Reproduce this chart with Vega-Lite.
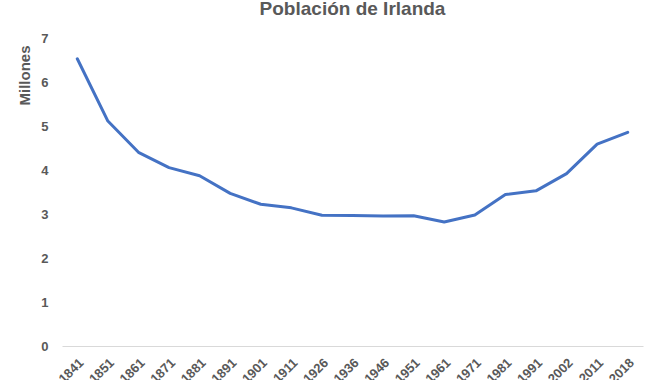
{
  "$schema": "https://vega.github.io/schema/vega-lite/v6.json",
  "width": 581,
  "height": 308,
  "autosize": {"type": "none"},
  "padding": {"left": 62, "top": 38, "right": 18, "bottom": 34},
  "background": "white",
  "title": {
    "text": "Población de Irlanda",
    "fontSize": 19,
    "font": "Liberation Sans",
    "fontWeight": "bold",
    "color": "#595959",
    "anchor": "middle",
    "offset": 13
  },
  "data": {
    "values": [
      {"year": "1841", "pop": 6.529},
      {"year": "1851", "pop": 5.112},
      {"year": "1861", "pop": 4.402},
      {"year": "1871", "pop": 4.053},
      {"year": "1881", "pop": 3.870},
      {"year": "1891", "pop": 3.469},
      {"year": "1901", "pop": 3.222},
      {"year": "1911", "pop": 3.140},
      {"year": "1926", "pop": 2.972},
      {"year": "1936", "pop": 2.968},
      {"year": "1946", "pop": 2.955},
      {"year": "1951", "pop": 2.961},
      {"year": "1961", "pop": 2.818},
      {"year": "1971", "pop": 2.978},
      {"year": "1981", "pop": 3.443},
      {"year": "1991", "pop": 3.526},
      {"year": "2002", "pop": 3.917},
      {"year": "2011", "pop": 4.588},
      {"year": "2018", "pop": 4.857}
    ]
  },
  "mark": {"type": "line", "color": "#4472C4", "strokeWidth": 3, "strokeCap": "round", "strokeJoin": "round"},
  "encoding": {
    "x": {
      "field": "year",
      "type": "ordinal",
      "sort": null,
      "scale": {"type": "band", "paddingInner": 0, "paddingOuter": 0},
      "axis": {
        "title": null,
        "labelAngle": -45,
        "labelFont": "Liberation Sans",
        "labelFontSize": 13,
        "labelFontWeight": "bold",
        "labelColor": "#595959",
        "ticks": false,
        "labelPadding": 10,
        "domainColor": "#D9D9D9",
        "domainWidth": 1,
        "grid": false
      }
    },
    "y": {
      "field": "pop",
      "type": "quantitative",
      "scale": {"domain": [0, 7], "nice": false},
      "axis": {
        "title": "Millones",
        "titleFont": "Liberation Sans",
        "titleFontSize": 15,
        "titleFontWeight": "bold",
        "titleColor": "#595959",
        "titleAnchor": "end",
        "titleY": 7,
        "titlePadding": 8,
        "values": [0, 1, 2, 3, 4, 5, 6, 7],
        "labelFont": "Liberation Sans",
        "labelFontSize": 13,
        "labelFontWeight": "bold",
        "labelColor": "#595959",
        "labelPadding": 14,
        "ticks": false,
        "domain": false,
        "grid": false
      }
    }
  },
  "config": {"view": {"stroke": null}}
}
